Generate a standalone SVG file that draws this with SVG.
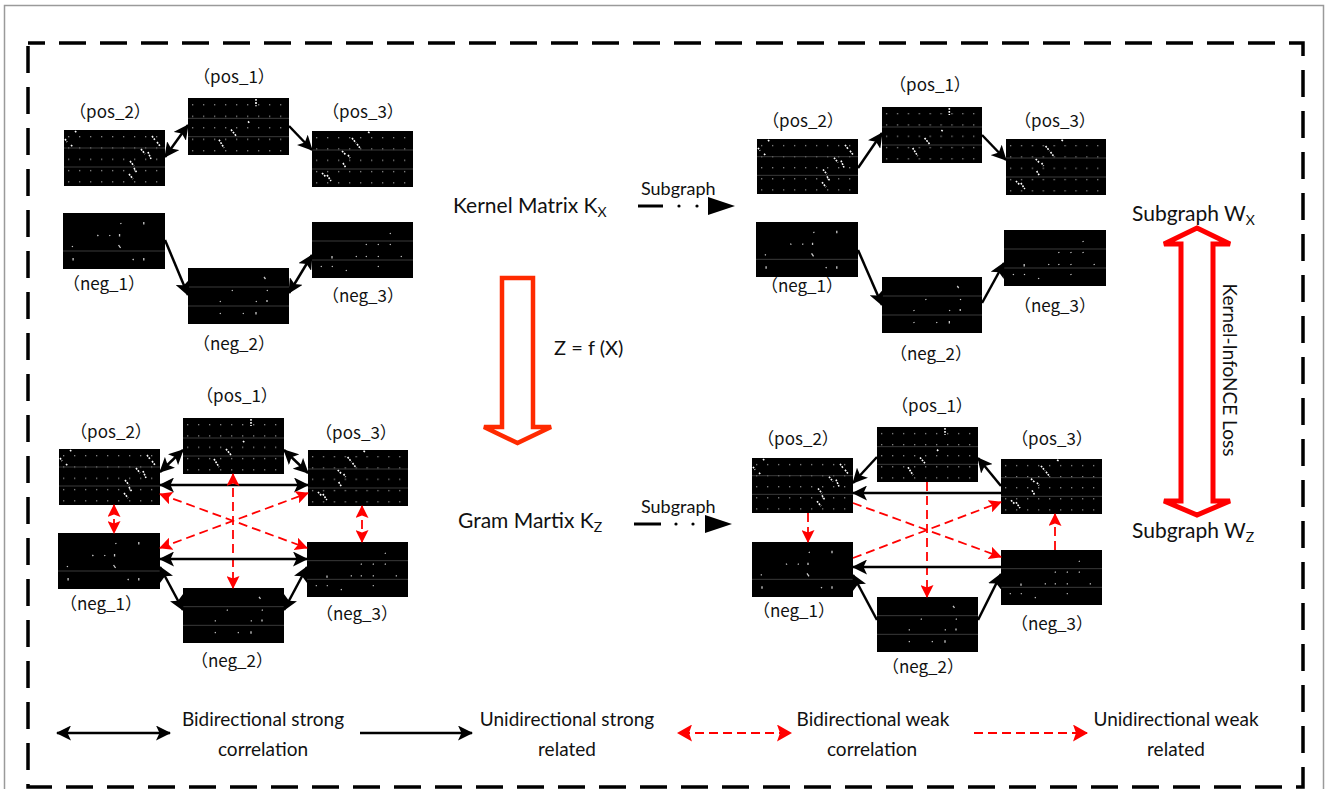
<svg xmlns="http://www.w3.org/2000/svg" xmlns:xlink="http://www.w3.org/1999/xlink" width="1328" height="789" viewBox="0 0 1328 789">
<style>
  text { font-family: Lato, "Noto Sans CJK SC", sans-serif; fill: #111; }
  .lbl { font-family: "Noto Sans CJK SC", "Noto Sans", sans-serif; font-size: 17px; text-anchor: middle; }
  .big { font-size: 21px; }
  .sub { font-size: 18px; }
  .leg { font-size: 19px; text-anchor: middle; }
  .blk { stroke: #000; stroke-width: 2.5; fill: none; }
  .red { stroke: #f00; stroke-width: 1.8; fill: none; stroke-dasharray: 9 5; }
  .grid { stroke: #4a4a4a; stroke-width: 0.8; }
  .streak { stroke: #fff; stroke-width: 1.6; fill: none; stroke-dasharray: 1.8 1.2; }
  .mark { stroke: #c8c8c8; stroke-width: 1.3; fill: none; }
</style>
<defs>
  <marker id="ab" viewBox="0 0 15 15" refX="14" refY="7.5" markerWidth="15" markerHeight="15" markerUnits="userSpaceOnUse" orient="auto-start-reverse">
    <path d="M0,0 L15,7.5 L0,15 L3.5,7.5 z" fill="#000"/>
  </marker>
  <marker id="ar" viewBox="0 0 13 13" refX="12" refY="6.5" markerWidth="13" markerHeight="13" markerUnits="userSpaceOnUse" orient="auto-start-reverse">
    <path d="M0,0 L13,6.5 L0,13 L2.5,6.5 z" fill="#f00"/>
  </marker>
  <marker id="arl" viewBox="0 0 15 17" refX="14" refY="8.5" markerWidth="15" markerHeight="17" markerUnits="userSpaceOnUse" orient="auto-start-reverse">
    <path d="M0,0 L15,8.5 L0,17 L3,8.5 z" fill="#f00"/>
  </marker>
  <pattern id="dots" width="11" height="11.3" patternUnits="userSpaceOnUse" x="4" y="6">
    <rect width="1.3" height="1.3" fill="#858585"/>
  </pattern>
  <symbol id="m-pos1" viewBox="0 0 101 56" preserveAspectRatio="none">
    <rect width="101" height="56" fill="#000"/>
    <rect width="101" height="56" fill="url(#dots)"/>
    <path class="grid" d="M0,20 H101 M0,38 H101"/>
    <path class="streak" d="M68,1 L68,8 M60,23 L62,25 M43,31 L48,37 M31,41 L36,49"/>
  </symbol>
  <symbol id="m-pos2" viewBox="0 0 101 56" preserveAspectRatio="none">
    <rect width="101" height="56" fill="#000"/>
    <rect width="101" height="56" fill="url(#dots)"/>
    <path class="grid" d="M0,18 H101 M0,37 H101"/>
    <path class="streak" d="M11,1 L13,3 M1,9 L3,12 M7,15 L9,17 M88,6 L91,10 M93,12 L96,16 M77,19 L81,24 M84,22 L87,29 M66,31 L70,36 M70,38 L73,43 M65,44 L69,49"/>
  </symbol>
  <symbol id="m-pos3" viewBox="0 0 101 56" preserveAspectRatio="none">
    <rect width="101" height="56" fill="#000"/>
    <rect width="101" height="56" fill="url(#dots)"/>
    <path class="grid" d="M0,19 H101 M0,38 H101"/>
    <path class="streak" d="M56,1 L58,2 M40,7 L44,12 M45,13 L48,17 M30,20 L34,24 M36,24 L38,27 M31,32 L34,37 M10,42 L14,46 M15,44 L19,50"/>
  </symbol>
  <symbol id="m-neg1" viewBox="0 0 101 56" preserveAspectRatio="none">
    <rect width="101" height="56" fill="#000"/>
    <path class="grid" d="M0,38 H101"/>
    <path class="mark" d="M57,10 l0.6,1 M80,9 l0,2.5 M34,22 l1,1 M46,22 l0.6,1 M56,21 l0,2.5 M9,33 l0.6,1 M55,32 l2,3 M10,45 l0,2.5 M69,46 l1,1 M80,45 l0,2.5"/>
  </symbol>
  <symbol id="m-neg2" viewBox="0 0 101 56" preserveAspectRatio="none">
    <rect width="101" height="56" fill="#000"/>
    <path class="grid" d="M0,19 H101 M0,38 H101"/>
    <path class="mark" d="M76,9 l1.5,2 M44,22 l0.6,1 M79,22 l0.6,1 M32,33 l0.6,1 M68,33 l0.6,1 M79,32 l0,2 M32,45 l0.6,1 M55,45 l0.6,1 M68,44 l0,2.5"/>
  </symbol>
  <symbol id="m-neg3" viewBox="0 0 101 56" preserveAspectRatio="none">
    <rect width="101" height="56" fill="#000"/>
    <path class="grid" d="M0,19 H101 M0,38 H101"/>
    <path class="mark" d="M78,11 l0.6,1 M54,22 l0.6,1 M66,22 l0.6,1 M78,22 l0.6,1 M20,34 l0,2.5 M44,34 l0.6,1 M54,34 l0.6,1 M66,34 l0.6,1 M89,34 l0.6,1 M9,44 l0.6,1 M20,44 l0.6,1 M34,48 l0.6,1 M66,44 l0.6,1"/>
  </symbol>
</defs>

<rect width="1328" height="789" fill="#fff"/>
<path d="M4.5,789 V5.5 H1323.5 V789" fill="none" stroke="#9a9a9a" stroke-width="1.5"/>
<rect x="28" y="43" width="1275" height="744" fill="none" stroke="#000" stroke-width="3.5" stroke-dasharray="27 14" stroke-dashoffset="10"/>

<!-- Top-left (Kernel matrix) -->
<g id="tl-pos1"><use href="#m-pos1" x="188" y="98" width="101" height="57"/><text class="lbl" x="234" y="83">（pos_1）</text></g>
<g id="tl-pos2"><use href="#m-pos2" x="64" y="130" width="101" height="56"/><text class="lbl" x="110" y="118">（pos_2）</text></g>
<g id="tl-pos3"><use href="#m-pos3" x="312" y="131" width="101" height="56"/><text class="lbl" x="363" y="118">（pos_3）</text></g>
<g id="tl-neg1"><use href="#m-neg1" x="63" y="213" width="102" height="56"/><text class="lbl" x="104" y="290">（neg_1）</text></g>
<g id="tl-neg2"><use href="#m-neg2" x="188" y="268" width="101" height="56"/><text class="lbl" x="234" y="350">（neg_2）</text></g>
<g id="tl-neg3"><use href="#m-neg3" x="312" y="222" width="101" height="56"/><text class="lbl" x="363" y="302">（neg_3）</text></g>

<!-- Top-right (Subgraph Wx) -->
<g id="tr-pos1"><use href="#m-pos1" x="882" y="107" width="100" height="56"/><text class="lbl" x="930" y="91">（pos_1）</text></g>
<g id="tr-pos2"><use href="#m-pos2" x="757" y="139" width="101" height="55"/><text class="lbl" x="803" y="127">（pos_2）</text></g>
<g id="tr-pos3"><use href="#m-pos3" x="1006" y="139" width="100" height="56"/><text class="lbl" x="1055" y="127">（pos_3）</text></g>
<g id="tr-neg1"><use href="#m-neg1" x="756" y="222" width="102" height="55"/><text class="lbl" x="802" y="292">（neg_1）</text></g>
<g id="tr-neg2"><use href="#m-neg2" x="882" y="277" width="100" height="56"/><text class="lbl" x="931" y="360">（neg_2）</text></g>
<g id="tr-neg3"><use href="#m-neg3" x="1004" y="230" width="102" height="56"/><text class="lbl" x="1055" y="312">（neg_3）</text></g>

<!-- Bottom-left (Gram matrix) -->
<g id="bl-pos1"><use href="#m-pos1" x="183" y="418" width="101" height="56"/><text class="lbl" x="237" y="402">（pos_1）</text></g>
<g id="bl-pos2"><use href="#m-pos2" x="59" y="449" width="101" height="56"/><text class="lbl" x="111" y="438">（pos_2）</text></g>
<g id="bl-pos3"><use href="#m-pos3" x="308" y="450" width="100" height="56"/><text class="lbl" x="356" y="439">（pos_3）</text></g>
<g id="bl-neg1"><use href="#m-neg1" x="58" y="533" width="102" height="56"/><text class="lbl" x="101" y="610">（neg_1）</text></g>
<g id="bl-neg2"><use href="#m-neg2" x="183" y="588" width="101" height="55"/><text class="lbl" x="232" y="667">（neg_2）</text></g>
<g id="bl-neg3"><use href="#m-neg3" x="307" y="542" width="101" height="55"/><text class="lbl" x="357" y="620">（neg_3）</text></g>

<!-- Bottom-right (Subgraph Wz) -->
<g id="br-pos1"><use href="#m-pos1" x="877" y="427" width="101" height="55"/><text class="lbl" x="932" y="412">（pos_1）</text></g>
<g id="br-pos2"><use href="#m-pos2" x="752" y="458" width="101" height="55"/><text class="lbl" x="798" y="445">（pos_2）</text></g>
<g id="br-pos3"><use href="#m-pos3" x="1001" y="459" width="101" height="55"/><text class="lbl" x="1052" y="445">（pos_3）</text></g>
<g id="br-neg1"><use href="#m-neg1" x="752" y="542" width="101" height="55"/><text class="lbl" x="794" y="617">（neg_1）</text></g>
<g id="br-neg2"><use href="#m-neg2" x="877" y="597" width="101" height="55"/><text class="lbl" x="923" y="673">（neg_2）</text></g>
<g id="br-neg3"><use href="#m-neg3" x="1001" y="550" width="101" height="55"/><text class="lbl" x="1052" y="630">（neg_3）</text></g>

<!-- Central labels and transform arrow -->
<g id="kernel-matrix"><text class="big" x="453" y="213">Kernel Matrix K<tspan font-size="14" dy="4">X</tspan></text></g>
<g id="gram-matrix"><text class="big" x="458" y="528">Gram Martix K<tspan font-size="14" dy="4">Z</tspan></text></g>
<g id="transform">
  <path d="M502,278 H533 V427 H551 L517.5,443 L484,427 H502 Z" fill="#fff" stroke="#ff2a00" stroke-width="4.5" stroke-linejoin="miter"/>
  <text x="554" y="355" font-size="20px">Z = f (X)</text>
</g>
<g id="subgraph-top">
  <text class="sub" x="641" y="195">Subgraph</text>
  <path d="M638,206 H663" stroke="#000" stroke-width="3"/>
  <circle cx="679" cy="206" r="1.6" fill="#000"/>
  <circle cx="697" cy="206" r="1.6" fill="#000"/>
  <polygon points="708,197 735,206 708,215" fill="#000"/>
</g>
<g id="subgraph-bottom">
  <text class="sub" x="641" y="513">Subgraph</text>
  <path d="M634,524 H661" stroke="#000" stroke-width="3"/>
  <circle cx="676" cy="524" r="1.6" fill="#000"/>
  <circle cx="693" cy="524" r="1.6" fill="#000"/>
  <polygon points="705,515 732,524 705,533" fill="#000"/>
</g>
<g id="subgraph-wx"><text class="big" x="1132" y="221">Subgraph W<tspan font-size="14" dy="4">X</tspan></text></g>
<g id="subgraph-wz"><text class="big" x="1132" y="538">Subgraph W<tspan font-size="14" dy="4">Z</tspan></text></g>
<g id="loss">
  <path d="M1197,228 L1230,244 H1213 V501 H1230 L1197,515 L1164,501 H1181 V244 H1164 Z" fill="#fff" stroke="#f00" stroke-width="5" stroke-linejoin="miter"/>
  <text transform="translate(1223,370) rotate(90)" font-size="19px" text-anchor="middle">Kernel-InfoNCE Loss</text>
</g>

<!-- Connectors -->
<g id="connectors">
  <!-- top-left -->
  <path class="blk" d="M165,157 L188,125" marker-start="url(#ab)" marker-end="url(#ab)"/>
  <path class="blk" d="M289,126 L312,150" marker-end="url(#ab)"/>
  <path class="blk" d="M165,240 L188,295" marker-end="url(#ab)"/>
  <path class="blk" d="M289,293 L312,255" marker-start="url(#ab)" marker-end="url(#ab)"/>
  <!-- top-right -->
  <path class="blk" d="M858,168 L882,133" marker-end="url(#ab)"/>
  <path class="blk" d="M982,135 L1006,160" marker-end="url(#ab)"/>
  <path class="blk" d="M858,250 L882,305" marker-end="url(#ab)"/>
  <path class="blk" d="M982,303 L1004,263" marker-end="url(#ab)"/>
  <!-- bottom-left -->
  <path class="blk" d="M160,472 L183,450" marker-start="url(#ab)" marker-end="url(#ab)"/>
  <path class="blk" d="M284,450 L308,473" marker-start="url(#ab)" marker-end="url(#ab)"/>
  <path class="blk" d="M160,485 L308,485" marker-start="url(#ab)" marker-end="url(#ab)"/>
  <path class="red" d="M114,505 L114,533" marker-start="url(#ar)" marker-end="url(#ar)"/>
  <path class="red" d="M362,506 L362,542" marker-start="url(#ar)" marker-end="url(#ar)"/>
  <path class="red" d="M233,474 L233,588" marker-start="url(#ar)" marker-end="url(#ar)"/>
  <path class="red" d="M160,494 L307,548" marker-start="url(#ar)" marker-end="url(#ar)"/>
  <path class="red" d="M160,548 L308,493" marker-start="url(#ar)" marker-end="url(#ar)"/>
  <path class="blk" d="M160,559 L307,559" marker-start="url(#ab)" marker-end="url(#ab)"/>
  <path class="blk" d="M160,567 L183,610" marker-start="url(#ab)" marker-end="url(#ab)"/>
  <path class="blk" d="M284,610 L307,567" marker-start="url(#ab)" marker-end="url(#ab)"/>
  <!-- bottom-right -->
  <path class="blk" d="M877,457 L853,483" marker-end="url(#ab)"/>
  <path class="blk" d="M1001,486 L978,458" marker-end="url(#ab)"/>
  <path class="blk" d="M1001,493 L853,493" marker-end="url(#ab)"/>
  <path class="red" d="M808,513 L808,542" marker-end="url(#ar)"/>
  <path class="red" d="M1055,550 L1055,514" marker-end="url(#ar)"/>
  <path class="red" d="M927,482 L927,597" marker-end="url(#ar)"/>
  <path class="red" d="M853,503 L1001,557" marker-end="url(#ar)"/>
  <path class="red" d="M853,558 L1001,502" marker-end="url(#ar)"/>
  <path class="blk" d="M1001,567 L853,567" marker-end="url(#ab)"/>
  <path class="blk" d="M877,620 L853,575" marker-end="url(#ab)"/>
  <path class="blk" d="M978,620 L1001,574" marker-end="url(#ab)"/>
</g>

<!-- Legend -->
<g id="legend">
  <path class="blk" d="M57,733 L170,733" marker-start="url(#ab)" marker-end="url(#ab)"/>
  <text class="leg" x="263" y="726">Bidirectional strong</text>
  <text class="leg" x="263" y="756">correlation</text>
  <path class="blk" d="M360,733 L472,733" marker-end="url(#ab)"/>
  <text class="leg" x="567" y="726">Unidirectional strong</text>
  <text class="leg" x="567" y="756">related</text>
  <path class="red" d="M678,733 L791,733" stroke-width="2.8" stroke-dasharray="12 9" stroke-dashoffset="-3" marker-start="url(#arl)" marker-end="url(#arl)"/>
  <text class="leg" x="873" y="726">Bidirectional weak</text>
  <text class="leg" x="872" y="756">correlation</text>
  <path class="red" d="M974,733 L1087,733" stroke-width="2.8" stroke-dasharray="12 9" marker-end="url(#arl)"/>
  <text class="leg" x="1176" y="726">Unidirectional weak</text>
  <text class="leg" x="1176" y="756">related</text>
</g>
</svg>
